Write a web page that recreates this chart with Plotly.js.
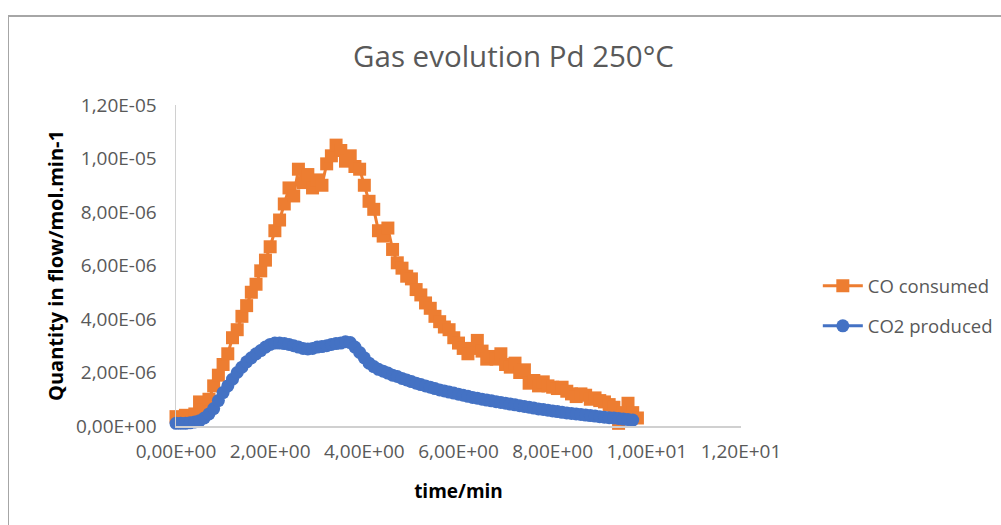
<!DOCTYPE html>
<html>
<head>
<meta charset="utf-8">
<script src="https://cdn.plot.ly/plotly-3.0.1.min.js"></script>
<style>
  html, body { margin: 0; padding: 0; background: #ffffff; overflow: hidden; }
  #wrap { position: relative; width: 1001px; height: 525px; }
  #chart { width: 1001px; height: 525px; }
  #frame { position: absolute; left: 8px; top: 15px; width: 1200px; height: 700px;
           border-left: 1px solid #a6a6a6; border-top: 2px solid #a6a6a6; pointer-events: none; }
</style>
</head>
<body>
<div id="wrap">
  <div id="chart"></div>
  <div id="frame"></div>
</div>
<script>
// time/min
const time = [
  0.0, 0.1, 0.2, 0.3, 0.4, 0.5, 0.6, 0.7, 0.8, 0.9,
  1.0, 1.1, 1.2, 1.3, 1.4, 1.5, 1.6, 1.7, 1.8, 1.9,
  2.0, 2.1, 2.2, 2.3, 2.4, 2.5, 2.6, 2.7, 2.8, 2.9,
  3.0, 3.1, 3.2, 3.3, 3.4, 3.5, 3.6, 3.7, 3.8, 3.9,
  4.0, 4.1, 4.2, 4.3, 4.4, 4.5, 4.6, 4.7, 4.8, 4.9,
  5.0, 5.1, 5.2, 5.3, 5.4, 5.5, 5.6, 5.7, 5.8, 5.9,
  6.0, 6.1, 6.2, 6.3, 6.4, 6.5, 6.6, 6.7, 6.8, 6.9,
  7.0, 7.1, 7.2, 7.3, 7.4, 7.5, 7.6, 7.7, 7.8, 7.9,
  8.0, 8.1, 8.2, 8.3, 8.4, 8.5, 8.6, 8.7, 8.8, 8.9,
  9.0, 9.1, 9.2, 9.3, 9.4, 9.5, 9.6, 9.7, 9.8
];
// CO consumed, mol/min
const coConsumed = [
  0.35e-6, 0.30e-6, 0.40e-6, 0.35e-6, 0.45e-6, 0.90e-6, 0.60e-6, 1.00e-6, 1.50e-6, 1.90e-6,
  2.30e-6, 2.70e-6, 3.30e-6, 3.60e-6, 4.10e-6, 4.50e-6, 5.00e-6, 5.30e-6, 5.80e-6, 6.20e-6,
  6.70e-6, 7.30e-6, 7.70e-6, 8.30e-6, 8.90e-6, 8.60e-6, 9.60e-6, 9.10e-6, 9.40e-6, 8.90e-6,
  9.20e-6, 9.00e-6, 9.80e-6, 10.1e-6, 10.5e-6, 10.3e-6, 9.90e-6, 10.1e-6, 9.70e-6, 9.60e-6,
  9.00e-6, 8.40e-6, 8.10e-6, 7.30e-6, 7.10e-6, 7.40e-6, 6.60e-6, 6.10e-6, 5.90e-6, 5.60e-6,
  5.50e-6, 5.10e-6, 4.90e-6, 4.60e-6, 4.40e-6, 4.10e-6, 3.90e-6, 3.70e-6, 3.60e-6, 3.30e-6,
  3.10e-6, 2.90e-6, 2.70e-6, 2.90e-6, 3.20e-6, 2.80e-6, 2.50e-6, 2.60e-6, 2.50e-6, 2.70e-6,
  2.30e-6, 2.20e-6, 2.35e-6, 2.00e-6, 2.10e-6, 1.60e-6, 1.70e-6, 1.50e-6, 1.65e-6, 1.50e-6,
  1.45e-6, 1.40e-6, 1.45e-6, 1.30e-6, 1.20e-6, 1.10e-6, 1.20e-6, 1.15e-6, 1.00e-6, 1.05e-6,
  0.95e-6, 0.90e-6, 0.80e-6, 0.70e-6, 0.10e-6, 0.50e-6, 0.85e-6, 0.50e-6, 0.30e-6
];
// CO2 produced, mol/min
const co2Produced = [
  0.10e-6, 0.10e-6, 0.10e-6, 0.12e-6, 0.15e-6, 0.20e-6, 0.30e-6, 0.45e-6, 0.65e-6, 0.95e-6,
  1.25e-6, 1.50e-6, 1.75e-6, 2.00e-6, 2.20e-6, 2.40e-6, 2.55e-6, 2.70e-6, 2.82e-6, 2.95e-6,
  3.05e-6, 3.10e-6, 3.10e-6, 3.08e-6, 3.05e-6, 3.00e-6, 2.95e-6, 2.90e-6, 2.88e-6, 2.90e-6,
  2.95e-6, 2.97e-6, 3.00e-6, 3.05e-6, 3.08e-6, 3.10e-6, 3.15e-6, 3.12e-6, 2.95e-6, 2.75e-6,
  2.55e-6, 2.35e-6, 2.22e-6, 2.12e-6, 2.05e-6, 1.98e-6, 1.90e-6, 1.85e-6, 1.78e-6, 1.72e-6,
  1.66e-6, 1.60e-6, 1.55e-6, 1.50e-6, 1.45e-6, 1.40e-6, 1.35e-6, 1.31e-6, 1.27e-6, 1.23e-6,
  1.19e-6, 1.15e-6, 1.11e-6, 1.07e-6, 1.04e-6, 1.00e-6, 0.97e-6, 0.94e-6, 0.91e-6, 0.88e-6,
  0.85e-6, 0.82e-6, 0.79e-6, 0.76e-6, 0.73e-6, 0.70e-6, 0.67e-6, 0.64e-6, 0.62e-6, 0.59e-6,
  0.56e-6, 0.54e-6, 0.51e-6, 0.49e-6, 0.47e-6, 0.45e-6, 0.43e-6, 0.41e-6, 0.39e-6, 0.37e-6,
  0.35e-6, 0.33e-6, 0.31e-6, 0.30e-6, 0.28e-6, 0.26e-6, 0.24e-6, 0.22e-6
];
const time2 = time.slice(0, co2Produced.length);

const xTickVals = [0, 2, 4, 6, 8, 10, 12];
const xTickText = ["0,00E+00", "2,00E+00", "4,00E+00", "6,00E+00", "8,00E+00", "1,00E+01", "1,20E+01"];
const yTickVals = [0, 2e-6, 4e-6, 6e-6, 8e-6, 1e-5, 1.2e-5];
const yTickText = ["0,00E+00", "2,00E-06", "4,00E-06", "6,00E-06", "8,00E-06", "1,00E-05", "1,20E-05"];

const FONT = '"Open Sans", "Noto Sans", sans-serif';

const traces = [
  {
    x: time, y: coConsumed, name: "CO consumed", type: "scatter", mode: "lines+markers",
    line: { color: "#ED7D31", width: 3 },
    marker: { symbol: "square", size: 13, color: "#ED7D31" },
    cliponaxis: false, legendgroup: "a"
  },
  {
    x: time2, y: co2Produced, name: "CO2 produced", type: "scatter", mode: "lines+markers",
    line: { color: "#4472C4", width: 3 },
    marker: { symbol: "circle", size: 13, color: "#4472C4" },
    cliponaxis: false, legendgroup: "b"
  }
];

const layout = {
  width: 1001, height: 525,
  margin: { l: 176, r: 260, t: 105, b: 99 },
  paper_bgcolor: "#ffffff", plot_bgcolor: "#ffffff",
  font: { family: FONT, color: "#595959", size: 18 },
  title: {
    text: "Gas evolution Pd 250°C",
    font: { family: FONT, size: 29.5, color: "#595959" },
    xref: "container", x: 0.513, xanchor: "center",
    yref: "container", y: 0.893, yanchor: "middle"
  },
  xaxis: {
    range: [0, 12], tickvals: xTickVals, ticktext: xTickText,
    showgrid: false, zeroline: false, showline: true, linecolor: "#d0d0d0", linewidth: 1.5,
    ticks: "", ticklabelstandoff: 8,
    tickfont: { family: FONT, size: 19, color: "#595959" },
    title: { text: "<b>time/min</b>", font: { family: FONT, size: 19, color: "#000000" }, standoff: 21 },
    automargin: false
  },
  yaxis: {
    range: [0, 1.2e-5], tickvals: yTickVals, ticktext: yTickText,
    showgrid: false, zeroline: false, showline: true, linecolor: "#d0d0d0", linewidth: 1.5,
    ticks: "", ticklabelstandoff: 14,
    tickfont: { family: FONT, size: 19, color: "#595959" },
    title: { text: "<b>Quantity in flow/mol.min-1</b>", font: { family: FONT, size: 20, color: "#000000" }, standoff: 7 },
    automargin: false
  },
  showlegend: true,
  legend: {
    xref: "container", yref: "container",
    x: 0.817, xanchor: "left", y: 0.491, yanchor: "top",
    traceorder: "grouped", tracegroupgap: 13,
    font: { family: FONT, size: 18.5, color: "#595959" },
    bgcolor: "rgba(0,0,0,0)", itemwidth: 40
  }
};

Plotly.newPlot("chart", traces, layout, { displayModeBar: false, staticPlot: true });
</script>
</body>
</html>
